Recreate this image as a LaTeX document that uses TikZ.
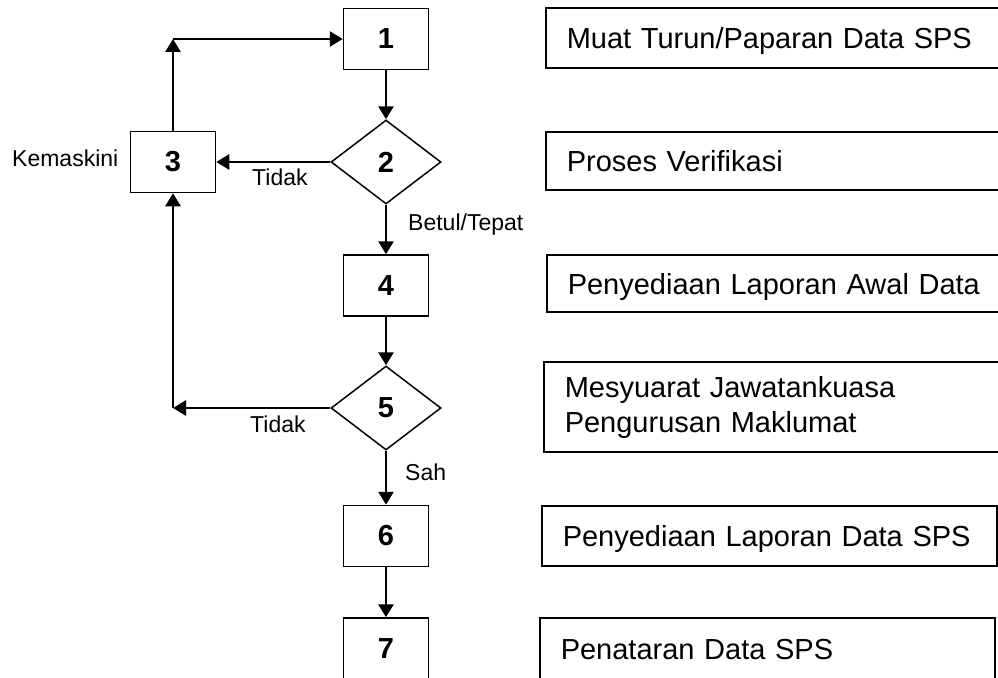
\documentclass[tikz,border=0pt]{standalone}
\usepackage{fontspec}
\setmainfont{Liberation Sans}
\usetikzlibrary{shapes.geometric,arrows.meta,positioning}
\tikzset{
  stepbox/.style={rectangle,draw,line width=1.5pt,minimum width=85pt,minimum height=61pt,
    inner sep=0pt,font=\fontsize{29}{34}\selectfont\bfseries},
  checkbox/.style={diamond,draw,line width=1.5pt,minimum width=110pt,minimum height=84pt,
    inner sep=0pt,font=\fontsize{29}{34}\selectfont\bfseries},
  descbox/.style={rectangle,draw,line width=1.5pt,anchor=west,inner xsep=21pt,inner ysep=0pt,
    align=left,font=\fontsize{29}{35}\selectfont},
  oneline/.style={text height=21pt,text depth=0pt},
  lbl/.style={inner sep=0pt,anchor=base west,font=\fontsize{23}{28}\selectfont},
  flow/.style={-{Triangle[length=13pt,width=15pt]},line width=2.7pt}
}

\begin{document}
\begin{tikzpicture}[x=1pt,y=-1pt]
\clip (0,0) rectangle (998,677);

% left column: steps and checks
\node[stepbox] (s1) at (386,39) {1};
\node[checkbox] (d2) at (386,162) {2};
\node[stepbox] (s3) at (173,162) {3};
\node[stepbox] (s4) at (386,285.5) {4};
\node[checkbox] (d5) at (386,408) {5};
\node[stepbox] (s6) at (386,536) {6};
\node[stepbox,minimum height=62pt] (s7) at (386,649) {7};

\coordinate (c1) at (s3.north |- s1.west);
\coordinate (c2) at (s3.south |- d5.west);

% connectors
\draw[flow] (s1.south) -- (d2.north);
\draw[flow] (d2.west) -- (s3.east);
\draw[flow] (s3.north) -- (c1);
\draw[flow] (c1) -- (s1.west);
\draw[flow] (d2.south) -- (s4.north);
\draw[flow] (s4.south) -- (d5.north);
\draw[flow] (d5.west) -- (c2);
\draw[flow] (c2) -- (s3.south);
\draw[flow] (d5.south) -- (s6.north);
\draw[flow] (s6.south) -- (s7.north);

% labels
\node[lbl] (lkemas) at (12,166) {Kemaskini};
\node[lbl] (ltidak1) at (252,185) {Tidak};
\node[lbl] (lbetul) at (408,230) {Betul/Tepat};
\node[lbl] (ltidak2) at (250,432) {Tidak};
\node[lbl] (lsah) at (405,480) {Sah};

% right column: descriptions
\node[descbox,oneline,text width=420pt,minimum height=60pt] (t1) at (545,38) {Muat Turun/Paparan Data SPS};
\node[descbox,oneline,text width=420pt,minimum height=58pt] (t2) at (545,161) {Proses Verifikasi};
\node[descbox,oneline,text width=420pt,minimum height=57pt] (t4) at (546,283.5) {Penyediaan Laporan Awal Data};
\node[descbox,text width=420pt,minimum height=90pt] (t5) at (543,407) {Mesyuarat Jawatankuasa\\Pengurusan Maklumat};
\node[descbox,oneline,text width=413pt,minimum height=60pt] (t6) at (541,536) {Penyediaan Laporan Data SPS};
\node[descbox,oneline,text width=413pt,minimum height=62pt] (t7) at (539,649) {Penataran Data SPS};
\end{tikzpicture}
\end{document}
